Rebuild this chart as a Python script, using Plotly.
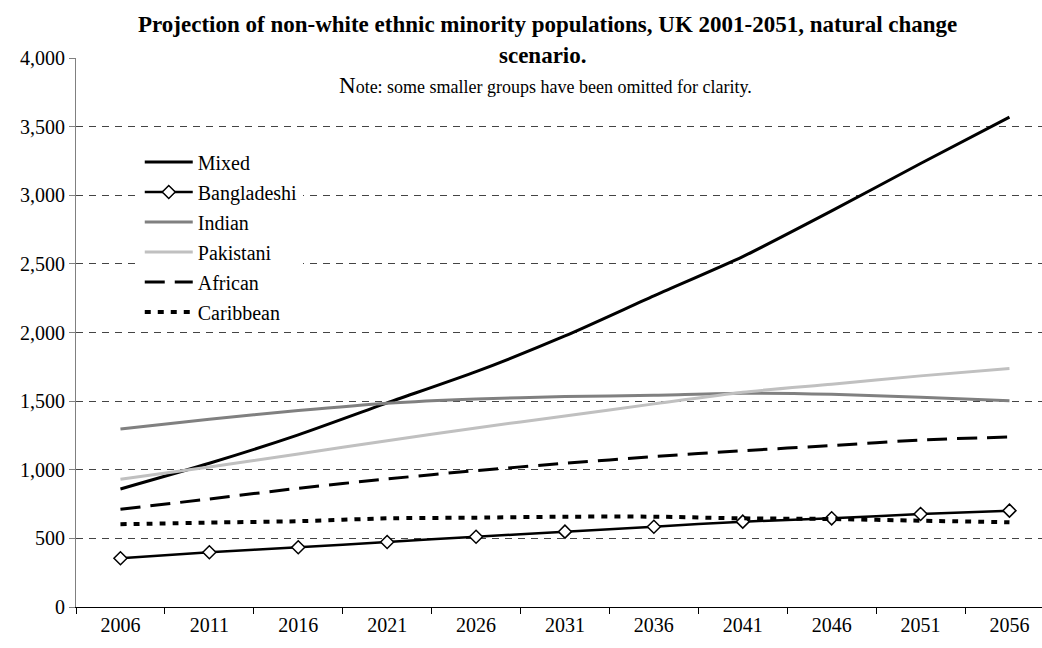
import plotly.graph_objects as go

years = ["2006", "2011", "2016", "2021", "2026", "2031", "2036", "2041", "2046", "2051", "2056"]

mixed = [860, 1047, 1254, 1487, 1715, 1975, 2267, 2553, 2886, 3231, 3569]
bangladeshi = [355, 399, 435, 474, 512, 549, 585, 622, 646, 678, 702]
indian = [1297, 1368, 1431, 1485, 1516, 1533, 1543, 1558, 1550, 1528, 1502]
pakistani = [931, 1020, 1115, 1212, 1305, 1392, 1480, 1565, 1623, 1684, 1737]
african = [712, 787, 865, 933, 994, 1047, 1096, 1139, 1176, 1217, 1239]
caribbean = [603, 615, 625, 646, 651, 658, 658, 646, 641, 629, 617]

y_ticks = [0, 500, 1000, 1500, 2000, 2500, 3000, 3500, 4000]

SERIF = "Liberation Serif"

fig = go.Figure()

series = [
    ("Mixed", mixed, dict(color="black", width=3), None),
    ("Bangladeshi", bangladeshi, dict(color="black", width=2.5),
     dict(symbol="diamond", size=10, color="white", line=dict(color="black", width=1.5))),
    ("Indian", indian, dict(color="#808080", width=3), None),
    ("Pakistani", pakistani, dict(color="#c0c0c0", width=3), None),
    ("African", african, dict(color="black", width=3, dash="20px,10px"), None),
    ("Caribbean", caribbean, dict(color="black", width=4, dash="6px,7px"), None),
]

for name, vals, line, marker in series:
    kw = dict(x=years, y=vals, name=name, legendgroup=name,
              line=dict(shape="spline", smoothing=0.6, **line))
    if marker:
        kw["mode"] = "lines+markers"
        kw["marker"] = marker
    else:
        kw["mode"] = "lines"
    fig.add_trace(go.Scatter(**kw))

fig.update_layout(
    width=1042, height=648,
    margin=dict(l=76, r=0, t=58, b=41),
    paper_bgcolor="white", plot_bgcolor="white",
    font=dict(family=SERIF, size=20, color="black"),
    showlegend=True,
    legend=dict(
        x=0.066, y=0.846, xanchor="left", yanchor="top",
        bgcolor="white",
        font=dict(family=SERIF, size=20, color="black"),
        tracegroupgap=1, itemwidth=48,
    ),
    xaxis=dict(
        type="category", range=[-0.5, 10.366],
        tickson="boundaries", ticks="outside", ticklen=6, tickcolor="black",
        showline=True, linecolor="black", linewidth=1,
        showgrid=False, tickfont=dict(family=SERIF, size=20),
        fixedrange=True,
    ),
    yaxis=dict(
        range=[0, 4000], tickvals=y_ticks, tickformat=",",
        ticks="outside", ticklen=6, tickcolor="#808080",
        showline=True, linecolor="#808080", linewidth=1,
        showgrid=True, gridcolor="#444444", gridwidth=1, griddash="7px,6px",
        zeroline=False, tickfont=dict(family=SERIF, size=20),
        fixedrange=True,
    ),
    annotations=[
        dict(text="<b>Projection of non-white ethnic minority populations, UK 2001-2051, natural change</b>",
             xref="paper", yref="paper", x=(547 - 76) / 966, y=1 + (58 - 25) / 549,
             xanchor="center", yanchor="middle", showarrow=False,
             font=dict(family=SERIF, size=23, color="black")),
        dict(text="<b>scenario.</b>",
             xref="paper", yref="paper", x=(543 - 76) / 966, y=1 + (58 - 55) / 549,
             xanchor="center", yanchor="middle", showarrow=False,
             font=dict(family=SERIF, size=23, color="black")),
        dict(text="<span style='font-size:23px'>N</span>ote: some smaller groups have been omitted for clarity.",
             xref="paper", yref="paper", x=(545 - 76) / 966, y=1 - (85 - 58) / 549,
             xanchor="center", yanchor="middle", showarrow=False,
             font=dict(family=SERIF, size=18, color="black")),
    ],
)

fig.write_html("out.html")
